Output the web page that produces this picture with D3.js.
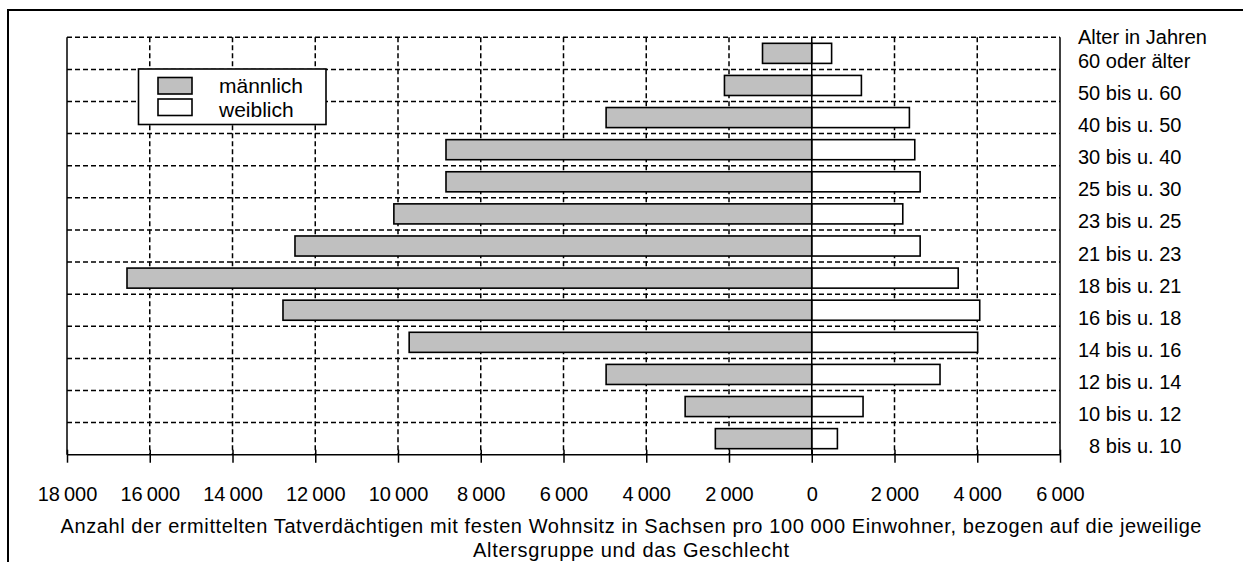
<!DOCTYPE html>
<html>
<head>
<meta charset="utf-8">
<script src="https://cdn.jsdelivr.net/npm/d3@7"></script>
<style>
  body { margin: 0; background: #fff; }
  svg { display: block; font-family: "Liberation Sans", Arial, sans-serif; }
</style>
</head>
<body>
<svg id="chart" width="1243" height="562"></svg>
<script>
// age groups, top to bottom
const ageGroups = ["60 oder älter", "50 bis u. 60", "40 bis u. 50", "30 bis u. 40", "25 bis u. 30",
    "23 bis u. 25", "21 bis u. 23", "18 bis u. 21", "16 bis u. 18", "14 bis u. 16",
    "12 bis u. 14", "10 bis u. 12", "\u20078 bis u. 10"];

// Tatverdächtige pro 100 000 Einwohner
const maleValues = [1190, 2110, 4970, 8840, 8840, 10100, 12490, 16550, 12780, 9730, 4970, 3060, 2330];
const femaleValues = [480, 1200, 2360, 2490, 2620, 2200, 2620, 3540, 4060, 4010, 3100, 1240, 620];

const tickValues = [-18000, -16000, -14000, -12000, -10000, -8000, -6000, -4000, -2000, 0, 2000, 4000, 6000];
const legendLabels = ["männlich", "weiblich"];
const ageTitle = "Alter in Jahren";
const axisTitle = ["Anzahl der ermittelten Tatverdächtigen mit festen Wohnsitz in Sachsen pro 100 000 Einwohner, bezogen auf die jeweilige",
    "Altersgruppe und das Geschlecht"];

const svg = d3.select("#chart");

const plotLeft = 67, plotRight = 1060, plotTop = 37.3, plotBottom = 454.7;

const x = d3.scaleLinear().domain([-18000, 6000]).range([plotLeft, plotRight]);
const y = d3.scaleBand().domain(ageGroups).range([plotTop, plotBottom]).paddingInner(0.375).paddingOuter(0.1875);

const nf = d3.formatLocale({ decimal: ",", thousands: "\u2009", grouping: [3], currency: ["", " €"] }).format(",d");

// outer frame
svg.append("rect")
    .attr("x", 8).attr("y", 10).attr("width", 1300).attr("height", 600)
    .attr("fill", "none").attr("stroke", "#000").attr("stroke-width", 2);

// horizontal gridlines (band boundaries)
const gap = y.step() * y.paddingInner() / 2;
svg.append("g").selectAll("line")
    .data(ageGroups)
    .enter().append("line")
    .attr("x1", plotLeft).attr("x2", plotRight)
    .attr("y1", d => y(d) - gap).attr("y2", d => y(d) - gap)
    .attr("stroke", "#000").attr("stroke-width", 1.5).attr("stroke-dasharray", "5,3");

// vertical gridlines
svg.append("g").selectAll("line")
    .data(tickValues.filter(v => v !== 0 && v !== -18000 && v !== 6000))
    .enter().append("line")
    .attr("x1", d => x(d)).attr("x2", d => x(d))
    .attr("y1", plotTop).attr("y2", plotBottom)
    .attr("stroke", "#000").attr("stroke-width", 1.5).attr("stroke-dasharray", "5,3");

// left / right plot border
svg.append("line").attr("x1", plotLeft).attr("x2", plotLeft).attr("y1", plotTop).attr("y2", plotBottom)
    .attr("stroke", "#000").attr("stroke-width", 1.5);
svg.append("line").attr("x1", plotRight).attr("x2", plotRight).attr("y1", plotTop).attr("y2", plotBottom)
    .attr("stroke", "#000").attr("stroke-width", 1.5);

// bars
svg.append("g").selectAll("rect")
    .data(ageGroups)
    .enter().append("rect")
    .attr("x", (d, i) => x(-maleValues[i]))
    .attr("y", d => y(d))
    .attr("width", (d, i) => x(0) - x(-maleValues[i]))
    .attr("height", y.bandwidth())
    .attr("fill", "#c0c0c0").attr("stroke", "#000").attr("stroke-width", 1.6);

svg.append("g").selectAll("rect")
    .data(ageGroups)
    .enter().append("rect")
    .attr("x", x(0))
    .attr("y", d => y(d))
    .attr("width", (d, i) => x(femaleValues[i]) - x(0))
    .attr("height", y.bandwidth())
    .attr("fill", "#fff").attr("stroke", "#000").attr("stroke-width", 1.6);

// zero line
svg.append("line").attr("x1", x(0)).attr("x2", x(0)).attr("y1", plotTop).attr("y2", plotBottom)
    .attr("stroke", "#000").attr("stroke-width", 1.5);

// bottom axis
const axis = svg.append("g")
    .attr("transform", `translate(0,${plotBottom})`)
    .call(d3.axisBottom(x).tickValues(tickValues).tickSizeOuter(0).tickFormat(d => nf(Math.abs(d))));
axis.select(".domain").attr("stroke-width", 1.6).attr("d", `M${plotLeft},0H${plotRight}`);
axis.selectAll(".tick line").attr("y1", -5).attr("y2", 8).attr("stroke-width", 1.5);
axis.selectAll(".tick text")
    .attr("y", 46).attr("dy", 0)
    .attr("font-size", 20).attr("font-family", "Liberation Sans, Arial, sans-serif").attr("fill", "#000");

// category labels on the right
svg.append("g").selectAll("text")
    .data(ageGroups)
    .enter().append("text")
    .attr("x", 1078)
    .attr("y", d => y(d) + y.bandwidth() / 2 + 14.5)
    .attr("font-size", 20)
    .text(d => d);

svg.append("text")
    .attr("x", 1078).attr("y", 44)
    .attr("font-size", 20)
    .text(ageTitle);

// axis title (stretched to the width it has in the original)
const titleWidths = [1141, 316];
svg.append("g").selectAll("text")
    .data(axisTitle)
    .enter().append("text")
    .attr("x", 631)
    .attr("y", (d, i) => 533 + i * 23.5)
    .attr("text-anchor", "middle")
    .attr("font-size", 20)
    .attr("textLength", (d, i) => titleWidths[i])
    .attr("lengthAdjust", "spacing")
    .text(d => d);

// legend
const legend = svg.append("g");
legend.append("rect")
    .attr("x", 138.5).attr("y", 69).attr("width", 187.5).attr("height", 55.5)
    .attr("fill", "#fff").attr("stroke", "#000").attr("stroke-width", 1.6);
legend.selectAll("rect.swatch")
    .data(legendLabels)
    .enter().append("rect")
    .attr("class", "swatch")
    .attr("x", 158).attr("y", (d, i) => 77.5 + i * 21.5)
    .attr("width", 34).attr("height", 16.5)
    .attr("fill", (d, i) => i === 0 ? "#c0c0c0" : "#fff")
    .attr("stroke", "#000").attr("stroke-width", 1.6);
legend.selectAll("text")
    .data(legendLabels)
    .enter().append("text")
    .attr("x", 219).attr("y", (d, i) => 93 + i * 24)
    .attr("font-size", 21)
    .text(d => d);
</script>
</body>
</html>
